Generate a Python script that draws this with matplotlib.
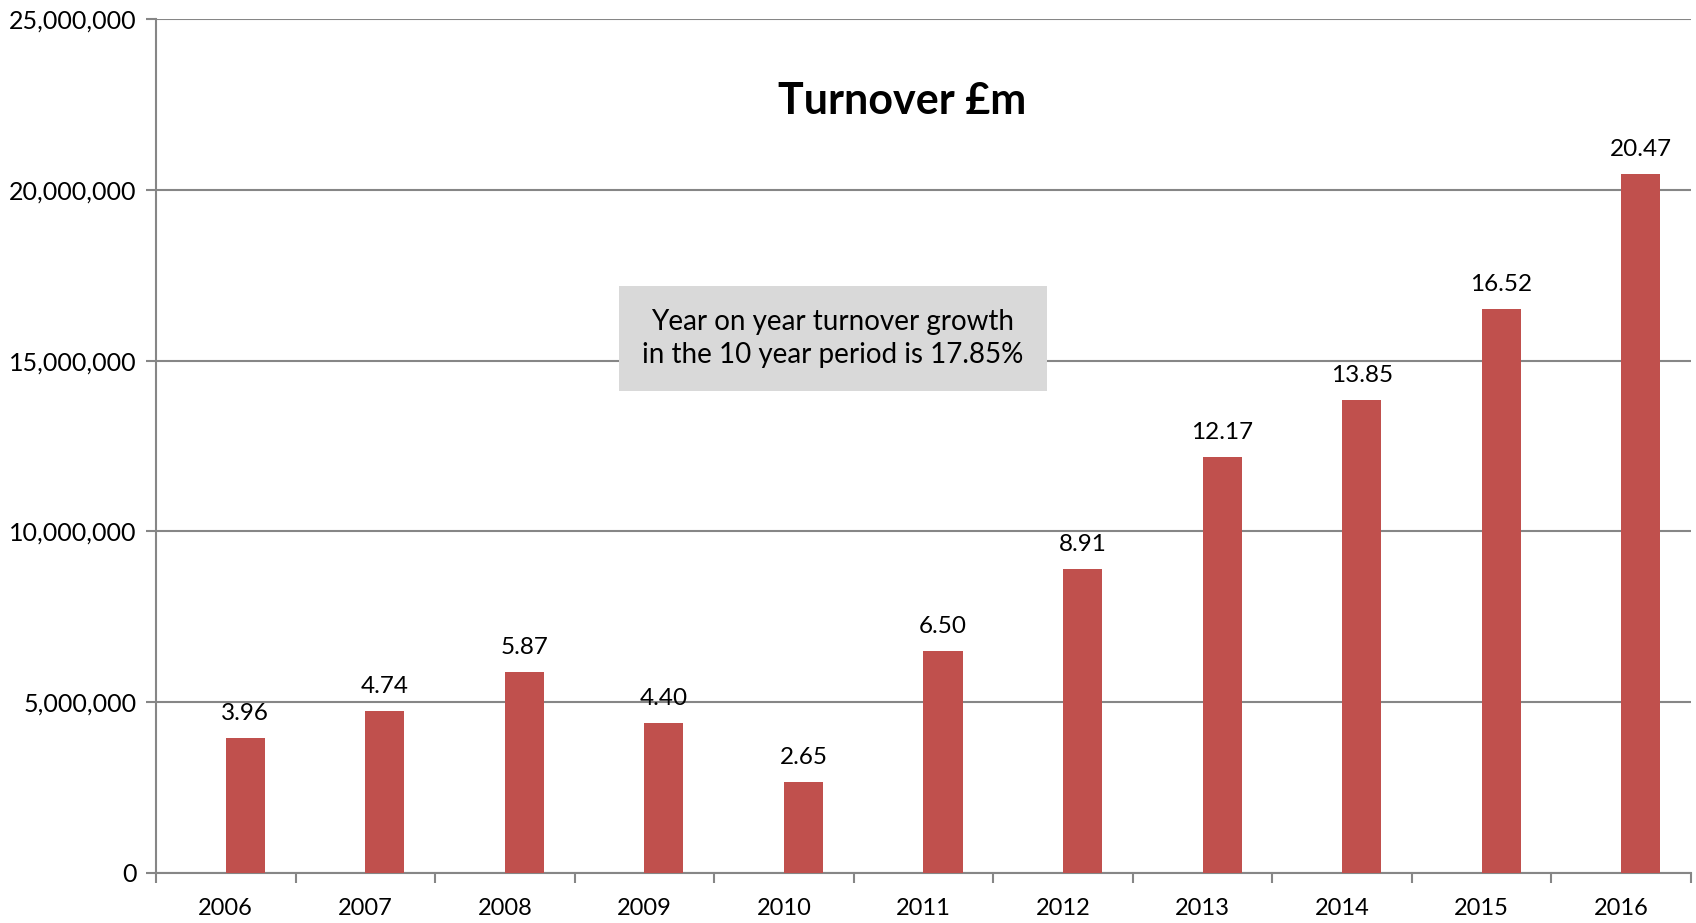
import matplotlib
matplotlib.use("Agg")
import matplotlib.pyplot as plt
from matplotlib.ticker import FuncFormatter, MultipleLocator

# ── data ─────────────────────────────────────────────────────────────────────
years = ["2006", "2007", "2008", "2009", "2010", "2011",
         "2012", "2013", "2014", "2015", "2016"]
turnover_m = [3.96, 4.74, 5.87, 4.40, 2.65, 6.50,
              8.91, 12.17, 13.85, 16.52, 20.47]
growth_note = "Year on year turnover growth\nin the 10 year period is 17.85%"

BAR_COLOR = "#C0504D"
GRID_COLOR = "#868686"

plt.rcParams["font.family"] = ["Lato", "DejaVu Sans"]

fig = plt.figure(figsize=(16.96, 9.23), dpi=100)
ax = fig.add_axes([0.092, 0.0545, 0.905, 0.9244])

x = range(len(years))
values = [v * 1_000_000 for v in turnover_m]
bars = ax.bar(x, values, width=0.28, align="edge", color=BAR_COLOR, zorder=3)

# value labels in £m above each bar
for bar, v in zip(bars, turnover_m):
    ax.annotate(f"{v:.2f}", xy=(bar.get_x() + bar.get_width() / 2, bar.get_height()),
                xytext=(0, 10), textcoords="offset points",
                ha="center", va="bottom", fontsize=17.5)

# axes
ax.set_xlim(-0.5, len(years) - 0.5)
ax.set_ylim(0, 25_000_000)
ax.yaxis.set_major_locator(MultipleLocator(5_000_000))
ax.yaxis.set_major_formatter(FuncFormatter(lambda v, _: f"{int(v):,}"))
ax.set_xticks(list(x))
ax.set_xticklabels(years)
ax.set_xticks([i - 0.5 for i in range(len(years) + 1)], minor=True)
ax.tick_params(axis="x", which="major", length=0, pad=18, labelsize=17)
ax.tick_params(axis="x", which="minor", length=7, width=1.5, color=GRID_COLOR)
ax.tick_params(axis="y", length=7, width=1.5, color=GRID_COLOR, labelsize=18, pad=7)

ax.grid(axis="y", color=GRID_COLOR, linewidth=1.5, zorder=0)
for side in ("top", "right"):
    ax.spines[side].set_visible(False)
for side in ("left", "bottom"):
    ax.spines[side].set_color(GRID_COLOR)
    ax.spines[side].set_linewidth(1.5)

# title and note inside the plot area
ax.text(0.486, 0.905, "Turnover £m", transform=ax.transAxes,
        ha="center", va="center", fontsize=31, fontweight="bold")
ax.text(0.441, 0.626, growth_note, transform=ax.transAxes,
        ha="center", va="center", fontsize=20, linespacing=1.3,
        bbox=dict(boxstyle="square,pad=0.85", facecolor="#D9D9D9", edgecolor="none"),
        zorder=4)

fig.savefig("out.png", dpi=100)
